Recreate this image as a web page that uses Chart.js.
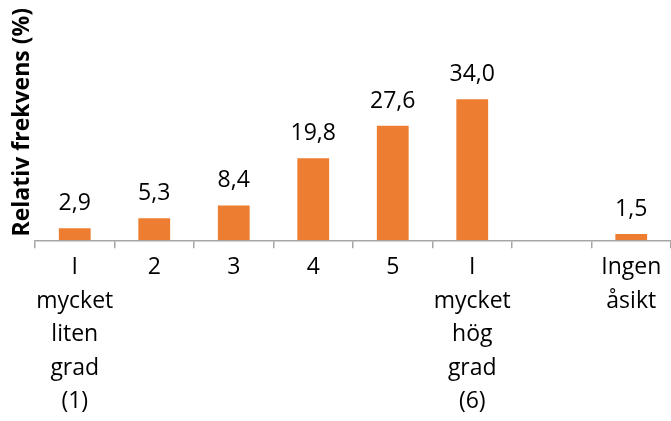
<!DOCTYPE html>
<html>
<head>
<meta charset="utf-8">
<script src="https://cdn.jsdelivr.net/npm/chart.js@4"></script>
<style>
  body { margin: 0; background: #fff; }
  #wrap { width: 671px; height: 421px; }
</style>
</head>
<body>
<div id="wrap"><canvas id="grafico"></canvas></div>
<script>
// kategorier och värden (relativ frekvens i %)
const kategorier = [
  ['I', 'mycket', 'liten', 'grad', '(1)'],
  '2', '3', '4', '5',
  ['I', 'mycket', 'hög', 'grad', '(6)'],
  '',
  ['Ingen', 'åsikt']
];
const andelar = [2.9, 5.3, 8.4, 19.8, 27.6, 34.0, null, 1.5];
const yMax = 56;

const fontNamn = "'Open Sans', 'DejaVu Sans', sans-serif";

// skriver värdet ovanför varje stapel, med decimalkomma
const vardeEtiketter = {
  id: 'vardeEtiketter',
  afterDatasetsDraw(chart) {
    const ctx = chart.ctx;
    const meta = chart.getDatasetMeta(0);
    ctx.save();
    ctx.font = '23px ' + fontNamn;
    ctx.fillStyle = '#000';
    ctx.textAlign = 'center';
    ctx.textBaseline = 'alphabetic';
    meta.data.forEach((bar, i) => {
      const v = andelar[i];
      if (v == null) return;
      ctx.fillText(v.toFixed(1).replace('.', ','), bar.x, bar.y - 18);
    });
    ctx.restore();
  }
};

const grafico = document.getElementById('grafico');
new Chart(grafico, {
  type: 'bar',
  data: {
    labels: kategorier,
    datasets: [{
      label: 'Relativ frekvens',
      data: andelar,
      backgroundColor: '#ED7D31',
      barPercentage: 0.4,
      categoryPercentage: 1
    }]
  },
  options: {
    responsive: true,
    maintainAspectRatio: false,
    animation: false,
    layout: { padding: { left: 7, right: -4, top: 8, bottom: 0 } },
    plugins: {
      legend: { display: false },
      tooltip: { enabled: false }
    },
    scales: {
      x: {
        grid: {
          offset: true,
          drawOnChartArea: false,
          drawTicks: true,
          tickLength: 8,
          color: '#a6a6a6',
          lineWidth: 1.5
        },
        border: { display: true, color: '#a6a6a6', width: 1.5 },
        ticks: {
          color: '#000',
          font: { family: fontNamn, size: 23, lineHeight: 1.45 },
          padding: 3,
          maxRotation: 0,
          autoSkip: false
        }
      },
      y: {
        min: 0,
        max: yMax,
        afterFit(scale) { scale.width = 28; },
        grid: { display: false },
        border: { display: false },
        ticks: { display: false },
        title: {
          display: true,
          text: 'Relativ frekvens (%)',
          align: 'end',
          color: '#000',
          font: { family: fontNamn, size: 23, weight: 'bold', lineHeight: 1.2 },
          padding: { top: 2, bottom: 0 }
        }
      }
    }
  },
  plugins: [vardeEtiketter]
});
</script>
</body>
</html>
